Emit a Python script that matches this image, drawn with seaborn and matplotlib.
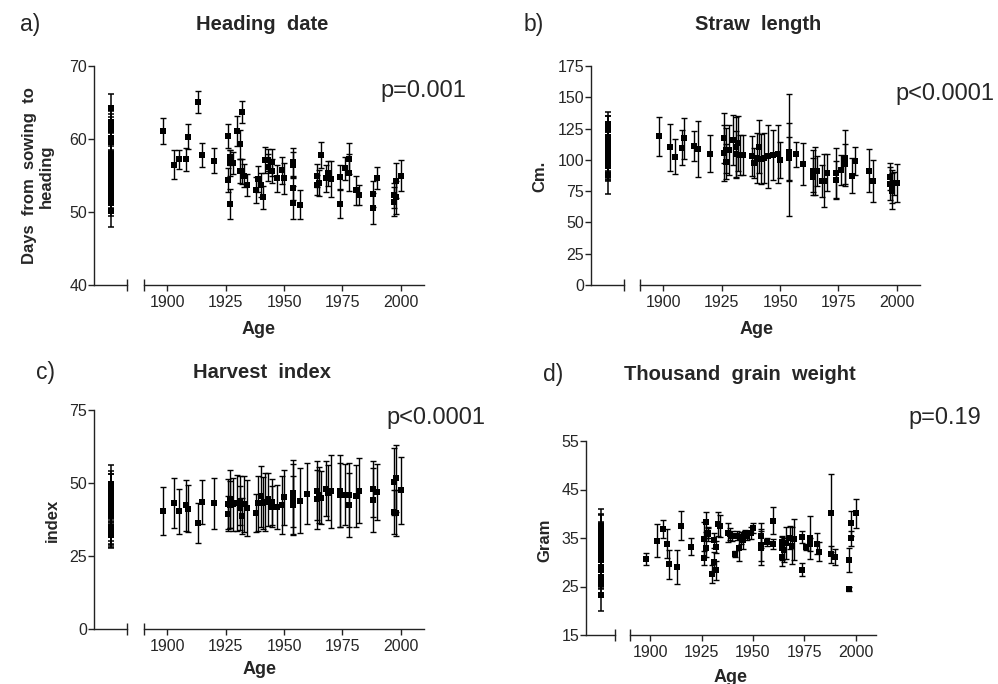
import numpy as np
import pandas as pd
import matplotlib
matplotlib.use('Agg')
import matplotlib.pyplot as plt
from matplotlib.ticker import FixedLocator
import seaborn as sns

sns.set_style('ticks')
plt.rcParams['font.family'] = ['Liberation Sans', 'DejaVu Sans']

# a) heading date
yrs_a = [1898, 1903, 1905, 1908, 1909, 1913, 1915, 1920, 1926, 1926, 1927, 1927, 1927, 1928, 1930,
         1931, 1931, 1932, 1932, 1933, 1934, 1938, 1939, 1940, 1941, 1942, 1943, 1943, 1945, 1945,
         1947, 1949, 1950, 1954, 1954, 1954, 1954, 1957, 1964, 1964, 1965, 1966, 1968, 1969, 1970,
         1974, 1974, 1976, 1978, 1978, 1981, 1982, 1988, 1988, 1990, 1997, 1997, 1998, 1998, 2000]
val_a = [61.1, 56.5, 57.2, 57.2, 60.3, 65.1, 57.8, 57.0, 60.4, 54.4, 51.1, 57.5, 56.7, 56.7, 61.1,
         59.3, 55.6, 63.7, 55.6, 55.0, 53.7, 53.0, 54.5, 53.7, 52.0, 57.1, 56.1, 57.1, 55.6, 56.8,
         54.6, 55.7, 54.6, 56.8, 56.4, 53.3, 51.3, 51.0, 55.0, 53.7, 54.0, 57.8, 54.6, 55.3, 54.5,
         54.8, 51.1, 56.0, 57.3, 55.4, 53.0, 52.3, 52.5, 50.5, 54.6, 52.3, 51.4, 54.3, 52.0, 55.0]
err_a = [1.8, 2.0, 1.3, 1.6, 1.7, 1.5, 1.6, 1.7, 1.7, 1.6, 2.0, 1.0, 1.8, 1.5, 2.0,
         2.0, 1.6, 1.5, 1.7, 1.6, 1.5, 1.8, 1.8, 1.6, 1.6, 1.8, 1.9, 1.5, 1.6, 1.8,
         1.9, 1.9, 2.1, 2.0, 1.8, 1.7, 2.2, 2.0, 1.6, 1.4, 1.8, 1.8, 1.8, 1.7, 2.5,
         1.7, 1.9, 1.6, 2.1, 2.5, 2.0, 1.4, 1.8, 2.1, 1.5, 1.7, 2.0, 2.4, 2.3, 2.1]
land_a = [64.3, 62.3, 61.8, 61.2, 60.1, 59.6, 58.0, 57.6, 56.8, 56.3, 55.9, 55.2, 54.5, 54.0, 53.2,
          52.6, 52.3, 51.9, 51.2, 50.1]
land_err_a = [1.9, 1.5, 1.6, 1.8, 1.7, 1.4, 1.9, 1.5, 1.7, 1.6, 1.5, 1.8, 1.7, 1.6, 1.8,
              1.5, 1.7, 1.6, 1.8, 2.2]

# b) straw length
yrs_b = [1898, 1903, 1905, 1908, 1909, 1913, 1915, 1920, 1926, 1926, 1927, 1927, 1928, 1930, 1931,
         1931, 1932, 1933, 1934, 1938, 1939, 1940, 1941, 1942, 1943, 1945, 1947, 1949, 1950, 1954,
         1954, 1954, 1957, 1960, 1964, 1964, 1965, 1966, 1968, 1969, 1970, 1974, 1974, 1976, 1978,
         1978, 1981, 1982, 1988, 1990, 1997, 1997, 1998, 1998, 1999, 2000]
val_b = [118.8, 110.0, 102.3, 109.5, 117.2, 111.3, 108.7, 105.0, 117.5, 105.5, 98.5, 107.6, 108.1, 116.1, 104.4,
         110.5, 113.2, 103.9, 103.6, 103.3, 97.5, 101.5, 110.5, 101.0, 101.2, 102.8, 103.9, 104.7, 99.9, 103.9,
         106.5, 101.2, 104.4, 96.7, 91.1, 86.6, 91.1, 91.4, 83.1, 83.4, 89.8, 89.5, 83.9, 91.9, 101.5,
         96.4, 87.4, 99.1, 91.4, 83.1, 86.6, 81.0, 78.6, 75.1, 81.3, 81.3]
err_b = [15.5, 19, 14, 14, 16.5, 12, 22, 15, 20, 22, 14, 18, 20, 20, 19,
         24, 22, 16, 16, 16, 12, 20, 21, 20, 20, 25, 20, 23, 14, 49,
         23, 17, 10, 17, 17, 15, 19, 12, 13, 21, 15, 20, 15, 12, 22,
         16, 14, 11, 17, 17, 11, 13, 13, 14, 9, 15]
land_b = [129, 127, 125, 118, 116, 114, 112, 110, 108, 106, 104, 103, 101, 99, 97, 95, 88]
land_err_b = [9, 8, 10, 10, 9, 11, 10, 12, 9, 11, 10, 12, 11, 14, 13, 12, 15]

# c) harvest index
yrs_c = [1898, 1903, 1905, 1908, 1909, 1913, 1915, 1920, 1926, 1926, 1927, 1927, 1928, 1930, 1931,
         1931, 1932, 1933, 1934, 1938, 1939, 1940, 1941, 1942, 1943, 1945, 1945, 1947, 1949, 1950,
         1954, 1954, 1954, 1957, 1960, 1964, 1964, 1965, 1966, 1968, 1969, 1970, 1974, 1974, 1976,
         1978, 1978, 1981, 1982, 1988, 1988, 1990, 1997, 1997, 1998, 1998, 2000]
val_c = [40.5, 43.1, 40.3, 42.3, 41.2, 36.3, 43.5, 43.0, 42.8, 39.4, 44.6, 42.6, 42.7, 43.1, 44.0,
         41.4, 38.7, 42.8, 41.5, 39.7, 43.0, 45.4, 43.2, 43.4, 44.4, 43.5, 41.9, 41.9, 42.4, 45.1,
         42.3, 46.5, 44.6, 44.0, 46.3, 47.4, 44.4, 45.9, 45.0, 48.1, 46.7, 47.1, 47.3, 45.9, 46.0,
         46.0, 42.5, 45.6, 47.4, 48.0, 44.1, 46.9, 50.5, 40.1, 51.6, 39.7, 47.5]
err_c = [8.3, 8.5, 7.8, 8.7, 8, 7, 7.5, 8.8, 8.5, 6, 10, 8, 9, 9.5, 8.5,
         7.5, 6, 9.5, 9.5, 6.5, 9.5, 10.5, 9, 10, 9, 8, 7, 7.5, 10, 9.5,
         10, 11.5, 12, 11, 10.5, 10, 10, 9.5, 9, 9.5, 9.5, 12.5, 12.3, 11, 10.5,
         11, 11, 10.5, 11, 9.6, 11, 9.7, 11.5, 7.5, 11.5, 8, 11.5]
land_c = [49.8, 48.5, 47.0, 46.0, 45.0, 44.2, 43.5, 42.8, 42.0, 41.2, 40.5, 39.8, 39.0, 35.0, 34.2,
          33.5, 32.8, 32.2]
land_err_c = [6.5, 5.5, 6, 7, 5, 6, 5.5, 6, 5, 6.5, 5, 6, 5.5, 5, 5.5, 4.5, 5, 4]

# d) thousand grain weight
yrs_d = [1898, 1903, 1906, 1908, 1909, 1913, 1915, 1920, 1926, 1926, 1927, 1927, 1928, 1928, 1930,
         1931, 1931, 1932, 1932, 1933, 1934, 1938, 1939, 1940, 1941, 1942, 1943, 1944, 1945, 1946,
         1947, 1949, 1950, 1954, 1954, 1954, 1957, 1960, 1960, 1964, 1964, 1964, 1965, 1966, 1968,
         1969, 1970, 1974, 1974, 1976, 1978, 1978, 1981, 1982, 1988, 1988, 1990, 1997, 1997, 1998,
         1998, 2000]
val_d = [30.7, 34.4, 36.9, 33.8, 29.6, 29.0, 37.5, 33.2, 34.7, 30.9, 38.3, 33.0, 35.8, 36.0, 27.6,
         30.1, 34.5, 33.1, 28.3, 37.9, 37.5, 36.1, 35.8, 35.4, 31.7, 35.5, 33.0, 35.0, 34.5, 35.9,
         35.4, 36.0, 37.1, 35.5, 33.6, 32.9, 34.2, 38.6, 33.8, 32.9, 31.1, 34.2, 32.5, 34.0, 35.1,
         33.4, 34.7, 35.2, 28.5, 33.1, 35.1, 33.7, 33.8, 32.2, 40.1, 31.6, 31.1, 30.4, 24.5, 38.0,
         34.9, 40.1]
err_d = [1.3, 3.4, 1.8, 3, 3, 3.5, 3, 1.8, 3.6, 1.5, 2, 2, 1.5, 1, 1.8,
         2, 1.5, 1.2, 2, 2.5, 2.3, 2, 1.3, 1, 0.6, 1, 2.8, 1.3, 1.8, 0.8,
         0.8, 1.2, 1, 2.5, 3.3, 3.5, 0.8, 2.7, 1, 2.5, 1.8, 1, 2.5, 3.3, 2.3,
         3.8, 4.3, 1.3, 1.3, 0.6, 4.5, 1.3, 2.2, 2, 8, 1.8, 1.7, 2.5, 0.5, 2.5,
         1.5, 3]
land_d = [37.5, 37.0, 36.3, 35.8, 35.0, 34.5, 33.8, 33.2, 32.5, 32.0, 31.2, 30.5, 28.8, 28.3, 27.0,
          26.7, 25.5, 23.2]
land_err_d = [3.5, 3, 3.5, 2.5, 3, 2.5, 3, 2.5, 3, 2.5, 2.8, 2.5, 2.0, 2.2, 2.5, 2, 2.5, 3.2]

W, H = 998, 684
fig = plt.figure(figsize=(W / 100, H / 100), dpi=100)


def box(x0, x1, y0, y1):
    # pixel box (top-left origin) -> figure fraction
    return [x0 / W, 1 - y1 / H, (x1 - x0) / W, (y1 - y0) / H]


def panel(geo, yrs, vals, errs, land, land_err, ylim, yticks, letter, title, ylabel, ptext, tpos):
    xa, xb, xc, xd, ytop, ybot = geo
    axl = fig.add_axes(box(xa, xb, ytop, ybot))
    axr = fig.add_axes(box(xc, xd, ytop, ybot))

    # landraces column
    dl = pd.DataFrame({'x': 0.5, 'v': land, 'e': land_err})
    axl.errorbar(dl['x'], dl['v'], yerr=dl['e'], fmt='none', ecolor='black', elinewidth=1.1,
                 capsize=2.5, capthick=1.1, clip_on=False)
    sns.scatterplot(data=dl, x='x', y='v', ax=axl, marker='s', color='black', s=20,
                    edgecolor='black', linewidth=0, clip_on=False)

    # cultivars by year
    dr = pd.DataFrame({'year': yrs, 'v': vals, 'e': errs})
    axr.errorbar(dr['year'], dr['v'], yerr=dr['e'], fmt='none', ecolor='black', elinewidth=1.0,
                 capsize=2.5, capthick=1.0, clip_on=False)
    sns.scatterplot(data=dr, x='year', y='v', ax=axr, marker='s', color='black', s=20,
                    edgecolor='black', linewidth=0, clip_on=False)

    for ax in (axl, axr):
        ax.set_ylim(ylim)
        ax.set_xlabel('')
        ax.set_ylabel('')
        ax.patch.set_alpha(0)
        for s in ('top', 'right'):
            ax.spines[s].set_visible(False)
        ax.spines['bottom'].set_linewidth(1.0)
        ax.spines['bottom'].set_color('#222222')

    axl.set_xlim(0, 1)
    axl.set_xticks([1])
    axl.set_xticklabels([])
    axl.tick_params(axis='x', direction='inout', length=9, width=1, color='#222222')
    axl.set_yticks(yticks)
    axl.tick_params(axis='y', direction='out', length=4, width=1, labelsize=11.5,
                    color='#222222', pad=1)
    axl.spines['left'].set_linewidth(1.0)
    axl.spines['left'].set_color('#222222')

    axr.set_xlim(1890, 2010)
    axr.set_xticks([1900, 1925, 1950, 1975, 2000])
    axr.xaxis.set_minor_locator(FixedLocator([1890]))
    axr.tick_params(axis='x', which='major', direction='out', length=4, width=1,
                    labelsize=11.5, color='#222222')
    axr.tick_params(axis='x', which='minor', direction='inout', length=9, width=1, color='#222222')
    axr.spines['left'].set_visible(False)
    axr.set_yticks([])

    (lx, ly), (tx, ty), (px, py), (ax_x, ax_y), (ylx, yly) = tpos
    fig.text(lx / W, 1 - ly / H, letter, fontsize=16.5, ha='left', va='center')
    fig.text(tx / W, 1 - ty / H, title, fontsize=14.5, fontweight='bold', ha='center', va='center')
    fig.text(px / W, 1 - py / H, ptext, fontsize=17, ha='left', va='center')
    fig.text(ax_x / W, 1 - ax_y / H, 'Age', fontsize=13, fontweight='bold', ha='center', va='center')
    fig.text(ylx / W, 1 - yly / H, ylabel, fontsize=12, fontweight='bold', ha='center', va='center',
             rotation=90, linespacing=1.15)


panel((94, 127, 144, 424, 66, 285), yrs_a, val_a, err_a, land_a, land_err_a,
      (40, 70), [40, 50, 60, 70], 'a)', 'Heading  date', 'Days  from  sowing  to\nheading', 'p=0.001',
      ((20, 25), (262, 25), (380, 91), (259, 330), (38, 176)))
panel((591, 624, 640, 920, 66, 285), yrs_b, val_b, err_b, land_b, land_err_b,
      (0, 175), [0, 25, 50, 75, 100, 125, 150, 175], 'b)', 'Straw  length', 'Cm.', 'p<0.0001',
      ((524, 25), (758, 25), (895, 94), (757, 330), (540, 176)))
panel((94, 127, 144, 424, 410, 629), yrs_c, val_c, err_c, land_c, land_err_c,
      (0, 75), [0, 25, 50, 75], 'c)', 'Harvest  index', 'index', 'p<0.0001',
      ((36, 373), (262, 373), (386, 418), (260, 669), (52, 520)))
panel((586, 615, 630, 876, 441, 635), yrs_d, val_d, err_d, land_d, land_err_d,
      (15, 55), [15, 25, 35, 45, 55], 'd)', 'Thousand  grain  weight', 'Gram', 'p=0.19',
      ((543, 374), (740, 374), (908, 418), (731, 677), (545, 540)))

fig.savefig('out.png', dpi=100)
